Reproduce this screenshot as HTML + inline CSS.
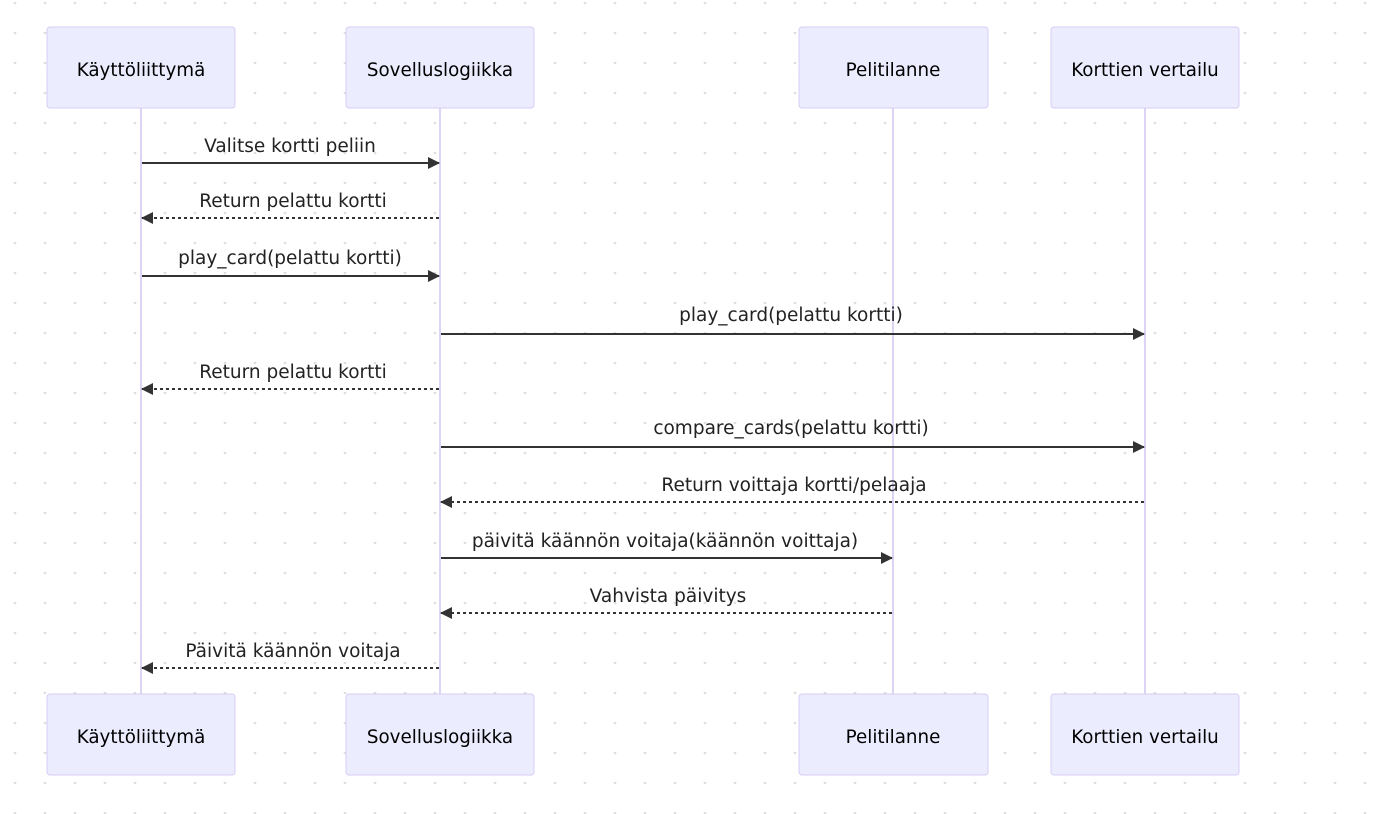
<!DOCTYPE html>
<html><head><meta charset="utf-8"><style>
html,body{margin:0;padding:0;background:#fff;}
svg{display:block;}
text{font-family:"DejaVu Sans","Liberation Sans",sans-serif;font-size:18.3px;fill:#333;}
.a text{font-size:18.5px;fill:#222;}
</style></head><body>
<svg width="1373" height="814" xmlns="http://www.w3.org/2000/svg">
<defs>
<pattern id="d" x="0" y="2" width="30" height="30" patternUnits="userSpaceOnUse">
<circle cx="15" cy="0.8" r="1.4" fill="#dedede"/>
</pattern>
<marker id="ar" markerWidth="12" markerHeight="12" refX="11" refY="6" orient="auto" markerUnits="userSpaceOnUse">
<path d="M0,0 L12,6 L0,12 z" fill="#333"/>
</marker>
</defs>
<rect width="1373" height="814" fill="url(#d)"/>
<g stroke="#dcd3f5" stroke-width="2">
<line x1="141" y1="108" x2="141" y2="694"/>
<line x1="440" y1="108" x2="440" y2="694"/>
<line x1="893" y1="108" x2="893" y2="694"/>
<line x1="1145" y1="108" x2="1145" y2="694"/>
</g>
<g fill="#ececff" stroke="#d7cdf3" stroke-width="1">
<rect x="47" y="27" width="188" height="81" rx="3"/>
<rect x="346" y="27" width="188" height="81" rx="3"/>
<rect x="799" y="27" width="189" height="81" rx="3"/>
<rect x="1051" y="27" width="188" height="81" rx="3"/>
<rect x="47" y="694" width="188" height="81" rx="3"/>
<rect x="346" y="694" width="188" height="81" rx="3"/>
<rect x="799" y="694" width="189" height="81" rx="3"/>
<rect x="1051" y="694" width="188" height="81" rx="3"/>
</g>
<g text-anchor="middle">
<text x="141" y="76" style="fill:#000">Käyttöliittymä</text>
<text x="440" y="76" style="fill:#000">Sovelluslogiikka</text>
<text x="893" y="76" style="fill:#000">Pelitilanne</text>
<text x="1145" y="76" style="fill:#000">Korttien vertailu</text>
<text x="141" y="743" style="fill:#000">Käyttöliittymä</text>
<text x="440" y="743" style="fill:#000">Sovelluslogiikka</text>
<text x="893" y="743" style="fill:#000">Pelitilanne</text>
<text x="1145" y="743" style="fill:#000">Korttien vertailu</text>
</g>
<g stroke="#333" stroke-width="2" marker-end="url(#ar)">
<line x1="142" y1="163" x2="439" y2="163"/>
<line x1="439" y1="218" x2="142" y2="218" stroke-dasharray="3,3"/>
<line x1="142" y1="276" x2="439" y2="276"/>
<line x1="441" y1="334" x2="1144" y2="334"/>
<line x1="439" y1="389" x2="142" y2="389" stroke-dasharray="3,3"/>
<line x1="441" y1="447" x2="1144" y2="447"/>
<line x1="1144" y1="502" x2="441" y2="502" stroke-dasharray="3,3"/>
<line x1="441" y1="558" x2="892" y2="558"/>
<line x1="892" y1="613" x2="441" y2="613" stroke-dasharray="3,3"/>
<line x1="439" y1="668" x2="142" y2="668" stroke-dasharray="3,3"/>
</g>
<g class="a" text-anchor="middle">
<text x="290" y="152">Valitse kortti peliin</text>
<text x="293" y="207">Return pelattu kortti</text>
<text x="290" y="264">play_card(pelattu kortti)</text>
<text x="791" y="321">play_card(pelattu kortti)</text>
<text x="293" y="378">Return pelattu kortti</text>
<text x="791" y="434">compare_cards(pelattu kortti)</text>
<text x="794" y="491">Return voittaja kortti/pelaaja</text>
<text x="665" y="547">päivitä käännön voitaja(käännön voittaja)</text>
<text x="668" y="602">Vahvista päivitys</text>
<text x="293" y="657">Päivitä käännön voitaja</text>
</g>
</svg>
</body></html>
